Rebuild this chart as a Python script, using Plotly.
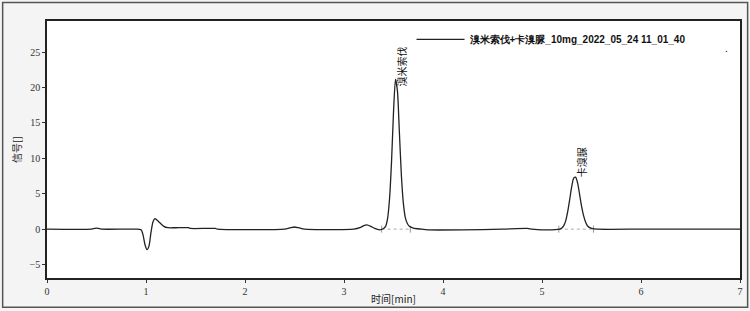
import plotly.graph_objects as go

# Chromatogram samples (time [min], signal)
time = [0.0, 0.45, 0.48, 0.50, 0.52, 0.55, 0.90, 0.95, 0.97, 0.99, 1.01, 1.03, 1.05, 1.07, 1.09, 1.11,
        1.14, 1.18, 1.22, 1.30, 1.43, 1.45, 1.70, 1.72, 2.40, 2.46, 2.50, 2.54, 2.60, 3.10, 3.16, 3.20,
        3.23, 3.27, 3.31, 3.36, 3.40, 3.42, 3.44, 3.46, 3.48, 3.50, 3.52, 3.54, 3.56, 3.58, 3.60, 3.62,
        3.64, 3.66, 3.70, 3.78, 3.85, 4.20, 4.60, 4.85, 4.90, 5.00, 5.18, 5.20, 5.22, 5.24, 5.26, 5.28,
        5.30, 5.32, 5.34, 5.36, 5.38, 5.40, 5.42, 5.44, 5.46, 5.50, 5.56, 6.00, 6.50, 7.00]
signal = [0.0, 0.0, 0.1, 0.15, 0.1, 0.0, 0.0, -0.1, -0.8, -2.2, -2.9, -2.4, -0.5, 1.0, 1.5, 1.3,
          0.9, 0.4, 0.2, 0.2, 0.2, 0.1, 0.1, 0.0, 0.0, 0.2, 0.3, 0.2, 0.0, 0.0, 0.2, 0.5,
          0.6, 0.4, 0.1, -0.1, 0.1, 0.4, 1.5, 4.3, 9.5, 16.5, 21.2, 19.5, 13.5, 7.5, 3.6, 1.6,
          0.8, 0.4, 0.15, 0.0, -0.1, -0.1, 0.0, 0.1, 0.0, -0.1, 0.0, 0.15, 0.5, 1.2, 2.5, 4.2,
          6.0, 7.2, 7.35, 6.5, 4.9, 3.2, 1.9, 1.0, 0.45, 0.12, 0.0, 0.0, 0.0, 0.0]

peak_names = ["溴米索伐", "卡溴脲"]
peak_times = [3.52, 5.335]
peak_heights = [21.2, 7.35]
peak_base_start = [3.38, 5.17]
peak_base_end = [3.67, 5.52]

series_name = "溴米索伐+卡溴脲_10mg_2022_05_24 11_01_40"
x_ticks = [0, 1, 2, 3, 4, 5, 6, 7]
y_ticks = [-5, 0, 5, 10, 15, 20, 25]

fig = go.Figure()

# integration baselines (gray dotted)
for s, e in zip(peak_base_start, peak_base_end):
    fig.add_trace(go.Scatter(x=[s, e], y=[0, 0], mode="lines+markers",
                             line=dict(color="#aaaaaa", width=1, dash="dot"),
                             marker=dict(symbol="line-ns", size=5, line=dict(color="#999999", width=1)),
                             showlegend=False, hoverinfo="skip"))

fig.add_trace(go.Scatter(x=time, y=signal, mode="lines", name="<b>" + series_name + "</b>",
                         line=dict(color="#222222", width=1.3, shape="spline", smoothing=0.6)))

for name, t, h, ys in zip(peak_names, peak_times, peak_heights, [-9, -2]):
    fig.add_annotation(x=t, y=h, text=name, textangle=-90, showarrow=False,
                       xanchor="center", yanchor="bottom", yshift=ys, xshift=6,
                       font=dict(family="Noto Sans CJK SC", size=10, color="#111111"))

fig.add_annotation(xref="paper", yref="paper", x=0.986, y=0.925, text=".", showarrow=False,
                   font=dict(size=11, color="#111111"))

# outer frame
fig.add_shape(type="rect", xref="paper", yref="paper", x0=-0.064, x1=1.011, y0=-0.114, y1=1.072,
              line=dict(color="#555555", width=1.5), layer="below")

fig.update_layout(
    width=750, height=311,
    margin=dict(l=47, r=10, t=21, b=33, autoexpand=False),
    paper_bgcolor="#f4f4f4",
    plot_bgcolor="#ffffff",
    showlegend=True,
    legend=dict(x=0.526, y=0.985, xanchor="left", yanchor="top", bgcolor="rgba(0,0,0,0)",
                font=dict(family="Liberation Sans, Arial", size=10, color="#111111"),
                itemwidth=48, tracegroupgap=0),
    font=dict(family="Liberation Serif", size=10, color="#333333"),
)

fig.update_xaxes(range=[0, 7], tickvals=x_ticks, ticks="outside", ticklen=3, tickcolor="#333333",
                 showline=True, linecolor="#222222", linewidth=1.5, mirror=True, showgrid=False,
                 zeroline=False, automargin=False,
                 title=dict(text="时间[min]", standoff=0,
                            font=dict(family="Noto Sans CJK SC", size=10, color="#222222")))
fig.update_yaxes(range=[-6.9, 29.4], tickvals=y_ticks, ticks="outside", ticklen=3, tickcolor="#333333",
                 showline=True, linecolor="#222222", linewidth=1.5, mirror=True, showgrid=False,
                 zeroline=False, automargin=False,
                 title=dict(text="信号[]", standoff=6,
                            font=dict(family="Noto Sans CJK SC", size=10, color="#222222")))

fig.write_html("out.html")
